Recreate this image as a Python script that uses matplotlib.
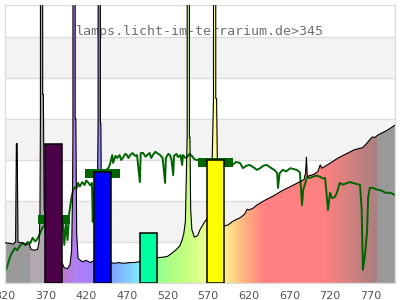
import numpy as np
import matplotlib
matplotlib.use('Agg')
import matplotlib.pyplot as plt
from matplotlib.colors import to_rgb

# lamp spectrum (black line), nm / relative value
spec_nm = [320, 325, 330, 333, 334, 335, 336, 340, 345, 350, 352, 356, 360, 362, 363,
           363.6, 363.7, 366.3, 366.4, 367.2, 368.2, 372, 380, 390, 393, 397, 400, 402, 403,
           403.6, 403.7, 406.3, 406.4, 407.2, 408.2, 410, 415, 420, 425, 430, 433,
           434.6, 434.7, 437.3, 437.4, 438, 439, 442, 450, 455, 460, 465, 470, 475, 480,
           485, 495, 505, 508, 515, 520, 525, 530, 535, 538, 540, 542,
           544.2, 544.3, 546.9, 547.0, 547.6, 548.5, 550, 553, 557, 560, 563, 566, 570,
           575, 576.6, 576.7, 579.3, 579.4, 580.4, 582, 586, 590, 595, 600, 605, 610, 615,
           618, 620, 625, 630, 640, 650, 660, 670, 680, 688, 690, 691, 692, 700, 705,
           708, 710, 720, 730, 740, 750, 760, 765, 770, 772, 775, 780, 790, 800]
spec_val = [0.98, 0.97, 0.95, 1.0, 3.4, 3.4, 1.0, 0.98, 0.95, 0.95, 0.82, 0.8, 0.82, 1.0, 1.6,
            4.0, 20, 20, 4.6, 4.6, 1.8, 1.2, 0.8, 0.5, 0.37, 0.35, 0.45, 0.8, 2.0,
            3.6, 20, 20, 4.0, 4.0, 1.2, 0.6, 0.52, 0.55, 0.5, 0.55, 0.9,
            3.9, 20, 20, 3.9, 3.9, 0.9, 0.55, 0.5, 0.48, 0.5, 0.48, 0.49, 0.5, 0.5,
            0.52, 0.55, 0.58, 0.62, 0.63, 0.65, 0.72, 0.8, 0.9, 1.05, 1.2, 1.5,
            3.56, 20, 20, 3.56, 3.56, 1.8, 1.3, 1.12, 1.15, 1.3, 1.4, 1.5, 1.6,
            3.0, 4.5, 20, 20, 4.5, 4.5, 2.0, 1.5, 1.39, 1.42, 1.5, 1.55, 1.6, 1.68,
            1.8, 1.78, 1.82, 1.9, 2.02, 2.12, 2.24, 2.34, 2.44, 2.52, 2.7, 3.07, 2.6, 2.65, 2.72,
            2.88, 2.8, 2.92, 3.05, 3.15, 3.25, 3.3, 3.4, 3.52, 3.56, 3.55, 3.62, 3.72, 3.85]

# sunlight reference (green line)
sun_nm = [320, 323, 326, 329, 332, 335, 338, 342, 345, 348, 351, 354, 357, 359, 361, 363,
          366, 370, 375, 380, 385, 389, 391, 393, 395, 397, 399, 402, 404, 406, 408,
          410, 412, 415, 418, 420, 422, 425, 427, 428, 429.5, 432, 436, 440, 444, 447,
          449, 452, 453, 456, 458, 461, 463, 465, 468, 470, 472, 474, 477, 480, 482.5,
          486, 487, 490, 493, 495, 498, 500, 502, 505, 507, 511, 514, 517, 518, 521,
          523, 525, 527, 528, 531, 533, 536, 538, 539, 542, 544, 547, 550, 553, 556,
          562, 570, 580, 588, 591, 595, 600, 604, 609, 613, 617, 621, 626, 630, 634,
          638, 642, 648, 652, 655, 656, 658, 662, 666, 671, 675, 679, 683, 685.5, 687,
          692, 695, 699, 703, 708, 711, 714, 717.5, 720, 722.5, 726, 728.5, 732, 736,
          741, 745, 748, 752, 757, 759, 760.5, 763, 765.5, 767, 769, 773, 777, 781,
          785, 788, 794, 800]
sun_val = [0.27, 0.42, 0.63, 0.75, 0.85, 0.8, 0.9, 0.98, 0.92, 1.0, 0.97, 1.1, 1.02, 1.05, 1.12, 1.2,
           1.35, 1.45, 1.5, 1.55, 1.6, 1.55, 1.54, 0.93, 1.49, 1.05, 1.7, 2.1, 2.27, 2.34, 2.3,
           2.44, 2.35, 2.46, 2.39, 2.5, 2.46, 2.38, 2.44, 1.49, 2.2, 2.55, 2.65, 2.7, 2.75, 2.8,
           2.88, 3.12, 2.93, 3.1, 3.05, 3.12, 3.0, 3.05, 3.15, 3.12, 3.05, 3.12, 3.17, 3.1, 3.12,
           2.46, 3.17, 3.17, 3.08, 3.12, 3.17, 3.05, 3.12, 3.2, 3.17, 3.12, 3.05, 2.44, 3.05, 3.15,
           3.12, 3.0, 2.63, 3.1, 3.15, 3.07, 3.12, 2.88, 3.12, 3.05, 3.07, 3.15, 3.1, 3.02, 3.0,
           2.98, 3.0, 2.95, 2.97, 2.93, 2.9, 2.88, 2.95, 2.93, 2.8, 2.86, 2.88, 2.82, 2.76, 2.8,
           2.86, 2.88, 2.8, 2.75, 2.68, 2.32, 2.68, 2.76, 2.72, 2.8, 2.78, 2.76, 2.7, 1.9, 2.27,
           2.59, 2.56, 2.59, 2.62, 2.59, 2.55, 2.56, 1.78, 2.2, 2.07, 2.1, 2.2, 2.44, 2.4,
           2.44, 2.46, 2.44, 2.42, 2.39, 1.78, 0.32, 0.68, 1.22, 2.1, 2.32, 2.32, 2.28, 2.27,
           2.24, 2.2, 2.2, 2.15]

# measured bands (coloured bars) and sunlight level for the same bands
band_nm = [380, 440, 497, 579]
band_val = [3.39, 2.71, 1.22, 3.0]
band_colors = ['#4c0047', '#0000ff', '#00ffa0', '#ffff00']
sunband_nm = [380, 440, 579]
sunband_val = [1.55, 2.67, 2.94]
sunband_w = [40, 42, 44]

tick_nm = [320, 370, 420, 470, 520, 570, 620, 670, 720, 770]
title = 'lamps.licht-im-terrarium.de>345'

# fill colours along the wavelength axis
stops = [(320, '#999999'), (350.5, '#999999'), (351, '#b0aab0'), (370, '#b0a8b0'),
         (392, '#b878c8'), (400, '#b47ce0'), (410, '#b080f8'), (430, '#a080ff'),
         (440, '#8890ff'), (455, '#80a8ff'), (470, '#80c8ff'), (486, '#80eeff'),
         (500, '#80ffc0'), (508, '#90ff90'), (520, '#a8ff88'), (545, '#c8ff80'),
         (565, '#e8ff90'), (578, '#ffff90'), (590, '#fff090'), (600, '#ffd888'),
         (615, '#ffb080'), (636, '#ff8880'), (642, '#ff8080'), (712, '#ff8080'),
         (730, '#e88080'), (777, '#a88080'), (777.5, '#999999'), (800, '#999999')]

ytop = 6.78

fig = plt.figure(figsize=(4, 3), dpi=100)
ax = fig.add_axes([5 / 400, 17 / 300, 390 / 400, 278 / 300])

for lo in [1, 3, 5]:
    ax.axhspan(lo, lo + 1, color='#f3f3f3', zorder=0, lw=0)
for g in range(1, 7):
    ax.axhline(g, color='#dddddd', lw=1, zorder=0.2)

ax.text(0.501, 0.906, title, transform=ax.transAxes, ha='center', va='center',
        family='DejaVu Sans Mono', fontsize=9.6, color='#707070', zorder=0.5)

cols = np.arange(320, 801, 1.0)
sx = [s[0] for s in stops]
rgb = np.array([to_rgb(s[1]) for s in stops])
img = np.stack([np.interp(cols, sx, rgb[:, k]) for k in range(3)], axis=-1)[None, :, :]
im = ax.imshow(img, extent=[319.5, 800.5, 0, 8], aspect='auto', origin='lower',
               interpolation='nearest', zorder=1)
poly = ax.fill_between(spec_nm, spec_val, 0, color='none', lw=0)
im.set_clip_path(poly.get_paths()[0], transform=ax.transData)

ax.plot(sun_nm, sun_val, color='#006400', lw=1.4, zorder=2)
ax.plot(spec_nm, spec_val, color='black', lw=0.8, zorder=3)

for c, v, w in zip(sunband_nm, sunband_val, sunband_w):
    ax.bar(c, 0.2, bottom=v - 0.1, width=w, color='#006400', lw=0, zorder=3.5)
ax.bar(band_nm, band_val, width=21, color=band_colors, edgecolor='black', lw=1.1, zorder=4)

ax.set_xlim(320, 800)
ax.set_ylim(0, ytop)
ax.set_xticks(tick_nm)
ax.set_xticklabels([str(t) for t in tick_nm])
ax.set_yticks([])
ax.tick_params(axis='x', length=0, pad=5.5, labelsize=8, labelcolor='#555555')
for s in ax.spines.values():
    s.set_color('#dddddd')
    s.set_linewidth(1)

fig.savefig('out.png', dpi=100)
